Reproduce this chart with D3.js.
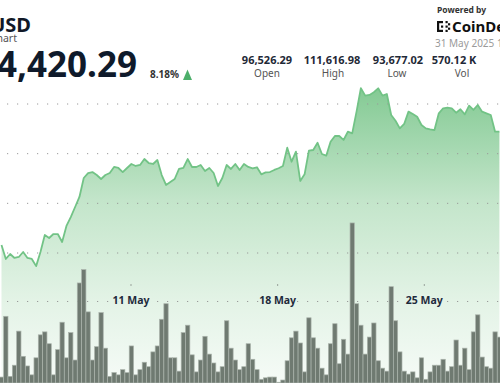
<!DOCTYPE html>
<html>
<head>
<meta charset="utf-8">
<script src="https://cdn.jsdelivr.net/npm/d3@7"></script>
<style>
  body { margin: 0; background: #fff; }
  svg { display: block; font-family: "Noto Sans", "Open Sans", sans-serif; }
</style>
</head>
<body>
<script>
var W = 500, H = 383

// candles are 31 days / 150 long; first visible one sits at the left edge
var t0 = Date.UTC(2025, 4, 4, 19, 39), stepMs = 31 * 24 * 3600e3 / 150

var price = [
  95810, 94400, 94900, 94500, 94600, 95100, 94500, 94400, 93680, 95100,
  96810, 96510, 96910, 96910, 96110, 97720, 98620, 99630, 100640, 102550,
  103050, 103150, 102850, 102450, 102850, 103050, 103660, 103560, 103150, 103560,
  103960, 103760, 103860, 104460, 104060, 103960, 104360, 102850, 101850, 102150,
  102450, 103460, 103560, 104460, 103660, 103660, 103860, 103260, 103560, 103050,
  101750, 102550, 103860, 103460, 103960, 103360, 103960, 103660,
  103530, 103630, 102920, 103120, 103150, 103360, 103530, 103760, 105600, 104190,
  105200, 102250, 102920, 105300, 105370, 106100, 104970, 104800, 106200, 106780,
  106780, 106380, 107210, 107050, 109230, 111600, 110840, 110910, 111180, 111580,
  110840, 111010, 108890, 108320, 107550, 107990, 109230, 108990, 108720, 107890,
  107550, 107450, 107380, 109060, 109570, 109630, 109570, 109120, 109470, 108960,
  109830, 109400, 109900, 109230, 109060, 108890, 107210, 107210
]

// volume per candle, thousand BTC
var volume = [
  0.8, 9.0, 0.9, 2.4, 7.0, 3.6, 2.3, 1.1, 3.4, 6.5,
  6.9, 5.3, 1.1, 4.5, 8.2, 3.4, 6.8, 3.1, 13.5, 15.3,
  9.6, 3.1, 4.9, 9.5, 4.7, 0.9, 1.4, 1.1, 1.8, 1.4,
  5.0, 1.1, 1.8, 2.8, 2.2, 4.2, 5.0, 8.6, 10.7, 3.4,
  3.4, 1.6, 6.8, 7.8, 3.8, 1.5, 3.1, 6.3, 3.9, 2.7,
  1.5, 2.2, 8.4, 4.7, 3.1, 1.8, 2.2, 5.3, 3.2, 1.8,
  0.5, 0.7, 0.8, 0.8, 0.1, 0.4, 3.0, 6.1, 7.0, 5.4,
  1.5, 8.8, 6.1, 4.7, 2.0, 1.1, 5.3, 8.0, 2.6, 5.9,
  3.9, 21.6, 10.7, 7.8, 3.9, 6.2, 8.1, 3.0, 2.0, 1.6,
  13.0, 8.4, 4.2, 1.6, 1.2, 1.5, 0.7, 3.4, 0.5, 1.5,
  2.4, 2.4, 3.2, 1.6, 2.2, 5.8, 2.4, 4.7, 1.8, 6.9,
  9.2, 3.5, 2.2, 2.0, 6.9, 6.2
]

var dateTicks = [Date.UTC(2025, 4, 11), Date.UTC(2025, 4, 18), Date.UTC(2025, 4, 25)]
var gridPrices = [110000, 105000, 100000, 95000]
var volGrid = [11]
var statValues = ['96,526.29', '111,616.98', '93,677.02', '570.12 K']
var statLabels = ['Open', 'High', 'Low', 'Vol']

var pts = price.map(function(p, i){ return { t: new Date(t0 + i * stepMs), p: p, v: volume[i] } })

var x = d3.scaleUtc()
  .domain([new Date(Date.UTC(2025, 4, 4, 17, 56)), new Date(Date.UTC(2025, 4, 28, 14, 43))])
  .range([0, W])
var yP = d3.scaleLinear().domain([95000, 110000]).range([253, 104])
var yV = d3.scaleLinear().domain([0, 25]).range([H, H - 25 * 7.41])
var barW = x(new Date(t0 + stepMs)) - x(new Date(t0))

var svg = d3.select('body').append('svg').attr('width', W).attr('height', H)

var grad = svg.append('defs').append('linearGradient')
  .attr('id', 'fill').attr('gradientUnits', 'userSpaceOnUse')
  .attr('x1', 0).attr('x2', 0).attr('y1', yP(111600)).attr('y2', H)
grad.selectAll('stop')
  .data([[0, '#84ca94'], [0.38, '#c3e5ca'], [0.72, '#e3f3e6'], [1, '#f6fbf7']])
  .enter().append('stop')
  .attr('offset', function(d){ return d[0] }).attr('stop-color', function(d){ return d[1] })

svg.append('path').datum(pts)
  .attr('fill', 'url(#fill)')
  .attr('d', d3.area().x(function(d){ return x(d.t) }).y0(H).y1(function(d){ return yP(d.p) }))

// dotted grid
var grid = svg.append('g')
grid.selectAll('line.p').data(gridPrices).enter().append('line')
  .attr('x1', 7).attr('x2', W).attr('y1', function(d){ return yP(d) }).attr('y2', function(d){ return yP(d) })
grid.selectAll('line.v').data(volGrid).enter().append('line')
  .attr('x1', 7).attr('x2', W).attr('y1', function(d){ return yV(d) }).attr('y2', function(d){ return yV(d) })
grid.selectAll('line')
  .attr('stroke', '#999').attr('stroke-width', 1).attr('stroke-dasharray', '1.2,8.8')

// volume bars
svg.append('g').selectAll('rect').data(pts).enter().append('rect')
  .attr('x', function(d){ return x(d.t) - barW / 2 })
  .attr('width', barW)
  .attr('y', function(d){ return yV(d.v) })
  .attr('height', function(d){ return H - yV(d.v) })
  .attr('fill', '#6f7a71').attr('stroke', '#aab3ab').attr('stroke-width', 0.7)

svg.append('path').datum(pts)
  .attr('fill', 'none').attr('stroke', '#72c386').attr('stroke-width', 1.8)
  .attr('stroke-linejoin', 'round')
  .attr('d', d3.line().x(function(d){ return x(d.t) }).y(function(d){ return yP(d.p) }))

// date axis
var ax = svg.append('g')
ax.selectAll('rect').data(dateTicks).enter().append('rect')
  .attr('x', function(d){ return x(new Date(d)) - 0.5 }).attr('y', 284.5)
  .attr('width', 1).attr('height', 1).attr('fill', '#555')
ax.selectAll('text').data(dateTicks).enter().append('text')
  .attr('x', function(d){ return x(new Date(d)) }).attr('y', 304)
  .attr('text-anchor', 'middle').attr('font-size', 10.5).attr('font-weight', 700)
  .attr('fill', '#1e2a3b').attr('stroke', '#e4f3e7').attr('stroke-width', 3)
  .attr('paint-order', 'stroke')
  .text(function(d){ return d3.utcFormat('%-d %b')(new Date(d)) })

// header
svg.append('text').attr('x', 31).attr('y', 32).attr('text-anchor', 'end')
  .attr('font-size', 20).attr('font-weight', 700).attr('fill', '#111827').text('BTC/USD')
svg.append('text').attr('x', 17).attr('y', 42).attr('text-anchor', 'end')
  .attr('font-size', 10.5).attr('fill', '#555').text('Price Chart')
svg.append('text').attr('x', 137).attr('y', 77).attr('text-anchor', 'end')
  .attr('font-size', 35).attr('font-weight', 700).attr('fill', '#0f1a2b').text('$104,420.29')
svg.append('text').attr('x', 150).attr('y', 78)
  .attr('font-size', 10).attr('font-weight', 700).attr('fill', '#333').text('8.18%')
svg.append('path').attr('d', 'M183,80 L187.5,69.5 L192,80 Z').attr('fill', '#4caf6a')

var statX = [267, 332, 398, 454], labX = [267, 333, 397, 462]
svg.append('g').selectAll('text').data(statValues).enter().append('text')
  .attr('x', function(d, i){ return statX[i] }).attr('y', 64).attr('text-anchor', 'middle')
  .attr('font-size', 11).attr('font-weight', 700).attr('fill', '#1f2937')
  .text(function(d){ return d })
svg.append('g').selectAll('text').data(statLabels).enter().append('text')
  .attr('x', function(d, i){ return labX[i] }).attr('y', 77).attr('text-anchor', 'middle')
  .attr('font-size', 10).attr('fill', '#555')
  .text(function(d){ return d })

svg.append('text').attr('x', 437).attr('y', 13)
  .attr('font-size', 8.5).attr('font-weight', 700).attr('fill', '#333').text('Powered by')
var logo = svg.append('g').attr('fill', '#111')
logo.append('rect').attr('x', 437).attr('y', 21).attr('width', 2.2).attr('height', 11)
logo.append('rect').attr('x', 437).attr('y', 21).attr('width', 6).attr('height', 2.2)
logo.append('rect').attr('x', 437).attr('y', 29.8).attr('width', 6).attr('height', 2.2)
logo.selectAll('rect.d').data([[441, 25.5], [445.5, 21], [445.5, 25.5], [445.5, 29.8], [448, 23.2], [448, 27.6]])
  .enter().append('rect')
  .attr('x', function(d){ return d[0] }).attr('y', function(d){ return d[1] })
  .attr('width', 2.2).attr('height', 2.2)
svg.append('text').attr('x', 452).attr('y', 32)
  .attr('font-size', 15).attr('font-weight', 700).attr('fill', '#111').text('CoinDesk')
svg.append('text').attr('x', 435).attr('y', 47)
  .attr('font-size', 10).attr('fill', '#9a9a9a').text('31 May 2025 17:00')
</script>
</body>
</html>
